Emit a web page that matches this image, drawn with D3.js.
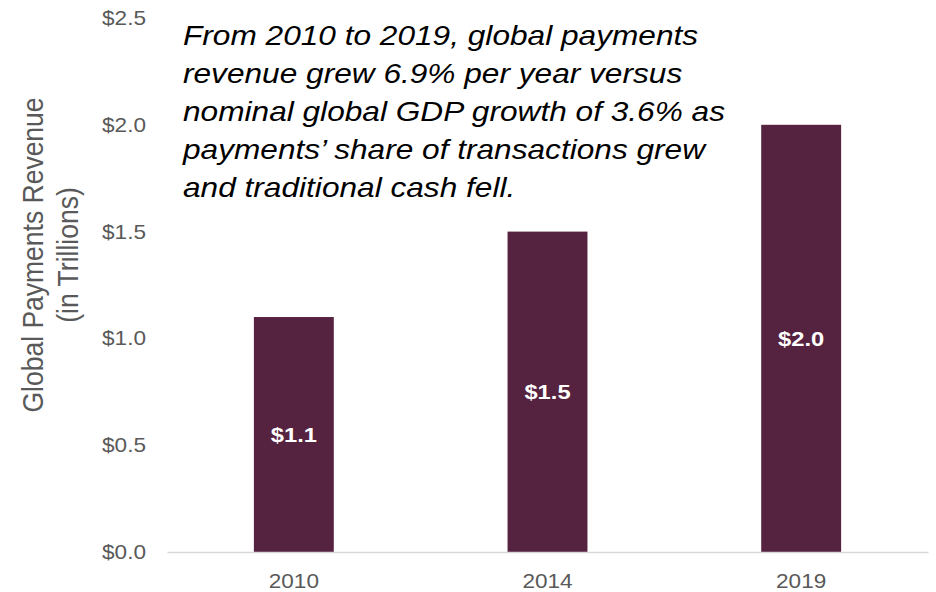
<!DOCTYPE html>
<html>
<head>
<meta charset="utf-8">
<script src="https://cdn.jsdelivr.net/npm/d3@7"></script>
<style>
  body { margin: 0; background: #fff; }
  svg { display: block; font-family: "Liberation Sans", Arial, sans-serif; }
</style>
</head>
<body>
<script>
"use strict";

var years = ["2010", "2014", "2019"];
var revenue = [1.1, 1.5, 2.0];
var yTicks = [0, 0.5, 1.0, 1.5, 2.0, 2.5];
var noteLines = [
  "From 2010 to 2019, global payments",
  "revenue grew 6.9% per year versus",
  "nominal global GDP growth of 3.6% as",
  "payments\u2019 share of transactions grew",
  "and traditional cash fell."
];

var width = 936, height = 592;
var margin = {top: 18, right: 8, bottom: 40, left: 167};

// the source text is a bit wider than Arial, stretch it sideways
var stretch = 1.13;

var svg = d3.select("body").append("svg")
  .attr("width", width)
  .attr("height", height);

var x = d3.scaleBand()
  .domain(years)
  .range([margin.left, width - margin.right])
  .paddingInner(0.685)
  .paddingOuter(0.3425);

var y = d3.scaleLinear()
  .domain([0, 2.5])
  .range([height - margin.bottom, margin.top]);

// y axis labels only
var yAxis = d3.axisLeft(y)
  .tickValues(yTicks)
  .tickSize(0)
  .tickPadding(0)
  .tickFormat(function(d) { return "$" + d3.format(".1f")(d); });

var gy = svg.append("g")
  .attr("transform", "translate(146,0)")
  .call(yAxis);
gy.select(".domain").remove();
gy.selectAll("text")
  .attr("fill", "#595959")
  .attr("transform", "scale(" + stretch + ",1)")
  .style("font-size", "20px");

// bars
svg.selectAll("rect.bar")
  .data(revenue)
  .enter().append("rect")
  .attr("class", "bar")
  .attr("x", function(d, i) { return x(years[i]); })
  .attr("width", x.bandwidth())
  .attr("y", function(d) { return y(d); })
  .attr("height", function(d) { return y(0) - y(d); })
  .attr("fill", "#55223f");

// x axis
var xAxis = d3.axisBottom(x).tickSize(0).tickPadding(22);
var gx = svg.append("g")
  .attr("transform", "translate(0," + y(0) + ")")
  .call(xAxis);
gx.select(".domain")
  .attr("stroke", "#d9d9d9")
  .attr("stroke-width", 1.5);
gx.selectAll("text")
  .attr("fill", "#595959")
  .attr("transform", "scale(" + stretch + ",1)")
  .style("font-size", "20px");

// value labels, centred in the bar
svg.selectAll("text.val")
  .data(revenue)
  .enter().append("text")
  .attr("class", "val")
  .attr("transform", function(d, i) {
    var cx = x(years[i]) + x.bandwidth() / 2;
    var cy = (y(d) + y(0)) / 2 + 7.5;
    return "translate(" + cx + "," + cy + ") scale(" + stretch + ",1)";
  })
  .attr("text-anchor", "middle")
  .attr("fill", "#fff")
  .style("font-size", "21px")
  .style("font-weight", "bold")
  .text(function(d) { return "$" + d3.format(".1f")(d); });

// y title
var title = svg.append("text")
  .attr("transform", "translate(0,255) scale(" + stretch + ",1) rotate(-90)")
  .attr("text-anchor", "middle")
  .attr("fill", "#595959")
  .style("font-size", "26.5px");
title.append("tspan").attr("x", 0).attr("y", 38).text("Global Payments Revenue");
title.append("tspan").attr("x", 0).attr("y", 69).text("(in Trillions)");

// annotation
var note = svg.append("text")
  .attr("transform", "translate(183,0) scale(" + stretch + ",1)")
  .attr("fill", "#000")
  .style("font-size", "28px")
  .style("font-style", "italic");
note.selectAll("tspan")
  .data(noteLines)
  .enter().append("tspan")
  .attr("x", 0)
  .attr("y", function(d, i) { return 45 + i * 38; })
  .text(function(d) { return d; });
</script>
</body>
</html>
